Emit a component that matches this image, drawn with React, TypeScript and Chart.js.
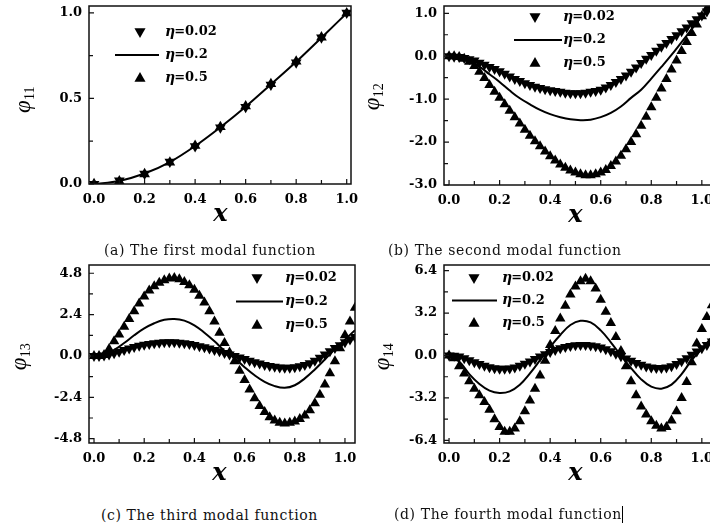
import React, { useEffect, useRef } from "react";
import { Chart, registerables } from "chart.js";

Chart.register(...registerables);

// ---------- shared labels ----------
const ETA_LABELS = ["η=0.02", "η=0.2", "η=0.5"];
const CAPTIONS = [
  "(a) The first modal function",
  "(b) The second modal function",
  "(c) The third modal function",
  "(d) The fourth modal function",
];
const Y_SUBS = ["11", "12", "13", "14"];

// ---------- x positions ----------
const A_X = [0, 0.1, 0.2, 0.3, 0.4, 0.5, 0.6, 0.7, 0.8, 0.9, 1.0];
const DENSE_X = [
  0, 0.02, 0.04, 0.06, 0.08, 0.1, 0.12, 0.14, 0.16, 0.18, 0.2, 0.22, 0.24, 0.26, 0.28, 0.3, 0.32, 0.34,
  0.36, 0.38, 0.4, 0.42, 0.44, 0.46, 0.48, 0.5, 0.52, 0.54, 0.56, 0.58, 0.6, 0.62, 0.64, 0.66, 0.68,
  0.7, 0.72, 0.74, 0.76, 0.78, 0.8, 0.82, 0.84, 0.86, 0.88, 0.9, 0.92, 0.94, 0.96, 0.98, 1.0, 1.02, 1.04,
];
const LINE_X = [
  0, 0.04, 0.08, 0.12, 0.16, 0.2, 0.24, 0.28, 0.32, 0.36, 0.4, 0.44, 0.48, 0.52, 0.56, 0.6, 0.64, 0.68,
  0.72, 0.76, 0.8, 0.84, 0.88, 0.92, 0.96, 1.0, 1.04,
];

// ---------- tick values ----------
const X_TICKS = [0, 0.2, 0.4, 0.6, 0.8, 1.0];
const X_MINOR = [0.1, 0.3, 0.5, 0.7, 0.9];
const A_Y_TICKS = [0, 0.5, 1.0];
const A_Y_MINOR = [0.25, 0.75];
const B_Y_TICKS = [-3, -2, -1, 0, 1];
const B_Y_MINOR = [-2.5, -1.5, -0.5, 0.5];
const C_Y_TICKS = [-4.8, -2.4, 0, 2.4, 4.8];
const C_Y_MINOR = [-3.6, -1.2, 1.2, 3.6];
const D_Y_TICKS = [-6.4, -3.2, 0, 3.2, 6.4];
const D_Y_MINOR = [-4.8, -1.6, 1.6, 4.8];

// ---------- (a) first modal function ----------
const A_ETA002 = [0, 0.02, 0.06, 0.13, 0.22, 0.33, 0.45, 0.58, 0.71, 0.855, 1.0];
const A_ETA02 = [0, 0.018, 0.061, 0.128, 0.222, 0.332, 0.452, 0.582, 0.714, 0.855, 0.998];
const A_ETA05 = [0, 0.016, 0.058, 0.126, 0.224, 0.334, 0.455, 0.585, 0.716, 0.857, 0.998];

// ---------- (b) second modal function ----------
const B_ETA002 = [
  0, -0.01, -0.02, -0.04, -0.07, -0.1, -0.15, -0.2, -0.25, -0.3, -0.35, -0.41, -0.47, -0.53, -0.58, -0.63,
  -0.67, -0.71, -0.74, -0.77, -0.79, -0.81, -0.83, -0.85, -0.86, -0.86, -0.86, -0.85, -0.83, -0.81, -0.78,
  -0.73, -0.67, -0.6, -0.53, -0.45, -0.36, -0.26, -0.16, -0.06, 0.03, 0.13, 0.22, 0.31, 0.4, 0.49, 0.58,
  0.67, 0.77, 0.86, 0.95, 1.04, 1.12,
];
const B_ETA02 = [
  0, -0.03, -0.1, -0.24, -0.42, -0.6, -0.8, -0.98, -1.12, -1.25, -1.35, -1.42, -1.47, -1.49, -1.48, -1.42,
  -1.32, -1.17, -0.97, -0.78, -0.52, -0.25, 0.03, 0.33, 0.63, 0.93, 1.2,
];
const B_ETA05 = [
  0, 0, -0.02, -0.06, -0.13, -0.23, -0.36, -0.51, -0.67, -0.83, -0.97, -1.12, -1.27, -1.42, -1.57, -1.71,
  -1.85, -1.98, -2.1, -2.22, -2.33, -2.43, -2.52, -2.6, -2.66, -2.71, -2.75, -2.77, -2.77, -2.75, -2.71,
  -2.65, -2.56, -2.45, -2.32, -2.17, -2.0, -1.82, -1.62, -1.41, -1.19, -0.97, -0.75, -0.53, -0.31, -0.1,
  0.12, 0.33, 0.54, 0.74, 0.93, 1.11, 1.28,
];

// ---------- (c) third modal function ----------
const C_ETA002 = [
  0, 0, 0.03, 0.08, 0.16, 0.25, 0.34, 0.43, 0.52, 0.59, 0.65, 0.7, 0.74, 0.77, 0.79, 0.8, 0.79, 0.77, 0.74,
  0.69, 0.64, 0.57, 0.5, 0.43, 0.35, 0.27, 0.18, 0.09, 0, -0.09, -0.18, -0.27, -0.36, -0.44, -0.52, -0.58,
  -0.63, -0.67, -0.69, -0.68, -0.66, -0.6, -0.53, -0.42, -0.27, -0.1, 0.08, 0.27, 0.46, 0.63, 0.8, 0.95, 1.1,
];
const C_ETA02 = [
  0, 0.08, 0.35, 0.75, 1.2, 1.6, 1.9, 2.1, 2.15, 2.05, 1.78, 1.35, 0.85, 0.3, -0.12, -0.65, -1.12, -1.5,
  -1.75, -1.85, -1.7, -1.3, -0.78, -0.2, 0.4, 0.95, 1.5,
];
const C_ETA05 = [
  0, 0, 0.05, 0.4, 0.85, 1.25, 1.7, 2.15, 2.6, 3.05, 3.45, 3.8, 4.05, 4.25, 4.4, 4.5, 4.52, 4.45, 4.3, 4.1,
  3.85, 3.5, 3.1, 2.6, 2.0, 1.35, 0.75, 0.2, -0.3, -0.85, -1.4, -1.95, -2.45, -2.9, -3.25, -3.55, -3.75,
  -3.88, -3.92, -3.88, -3.8, -3.65, -3.45, -3.15, -2.75, -2.25, -1.65, -1.0, -0.3, 0.45, 1.2, 2.0, 2.8,
];

// ---------- (d) fourth modal function ----------
const D_ETA002 = [
  0, -0.02, -0.08, -0.2, -0.35, -0.5, -0.64, -0.77, -0.88, -0.96, -1.0, -1.0, -0.97, -0.9, -0.78, -0.62,
  -0.45, -0.27, -0.08, 0.1, 0.27, 0.42, 0.55, 0.65, 0.72, 0.77, 0.79, 0.79, 0.76, 0.7, 0.6, 0.47, 0.32,
  0.14, -0.05, -0.22, -0.4, -0.56, -0.7, -0.82, -0.9, -0.95, -0.95, -0.9, -0.8, -0.64, -0.44, -0.2, 0.05,
  0.3, 0.55, 0.8, 1.05,
];
const D_ETA02 = [
  0, -0.45, -1.4, -2.15, -2.65, -2.82, -2.7, -2.2, -1.35, -0.35, 0.65, 1.55, 2.3, 2.62, 2.5, 1.9, 1.0, 0.0,
  -0.95, -1.8, -2.35, -2.5, -2.2, -1.4, -0.35, 0.5, 1.4,
];
const D_ETA05 = [
  0, -0.2, -0.8, -1.35, -1.95, -2.5, -3.0, -3.5, -4.1, -4.8, -5.4, -5.75, -5.75, -5.5, -4.95, -4.2, -3.4,
  -2.5, -1.5, -0.4, 0.8, 1.85, 2.8, 3.75, 4.6, 5.2, 5.6, 5.8, 5.6, 5.05, 4.2, 3.3, 2.45, 1.4, 0.35, -0.8,
  -1.95, -3.0, -3.85, -4.45, -4.95, -5.3, -5.5, -5.4, -4.9, -4.2, -3.2, -2.0, -0.5, 0.9, 2.0, 2.9, 3.8,
];

// ---------- helpers ----------
const zip = (xs: number[], ys: number[]) => xs.map((x, i) => ({ x, y: ys[i] }));

const SERIF = "'DejaVu Serif', serif";

function tri(ctx: CanvasRenderingContext2D, x: number, y: number, r: number, down: boolean) {
  const s = down ? -1 : 1;
  ctx.beginPath();
  ctx.moveTo(x, y - s * r);
  ctx.lineTo(x + r * 0.866, y + (s * r) / 2);
  ctx.lineTo(x - r * 0.866, y + (s * r) / 2);
  ctx.closePath();
  ctx.fill();
}

const decorPlugin = {
  id: "decor",
  afterDatasetsDraw(chart: any, _args: any, o: any) {
    const { ctx, chartArea: ca, scales } = chart;
    const xs = scales.x;
    const ys = scales.y;
    ctx.save();
    // frame
    ctx.strokeStyle = "#111";
    ctx.lineWidth = 1.5;
    ctx.strokeRect(ca.left, ca.top, ca.right - ca.left, ca.bottom - ca.top);
    // inward ticks
    ctx.lineWidth = 1.2;
    ctx.beginPath();
    o.xMajor.forEach((v: number) => {
      const p = xs.getPixelForValue(v);
      ctx.moveTo(p, ca.bottom);
      ctx.lineTo(p, ca.bottom - 5);
    });
    o.xMinor.forEach((v: number) => {
      const p = xs.getPixelForValue(v);
      ctx.moveTo(p, ca.bottom);
      ctx.lineTo(p, ca.bottom - 4);
    });
    o.yMajor.forEach((v: number) => {
      const p = ys.getPixelForValue(v);
      ctx.moveTo(ca.left, p);
      ctx.lineTo(ca.left + 5, p);
    });
    o.yMinor.forEach((v: number) => {
      const p = ys.getPixelForValue(v);
      ctx.moveTo(ca.left, p);
      ctx.lineTo(ca.left + 4, p);
    });
    ctx.stroke();

    // x title
    ctx.fillStyle = "#000";
    ctx.font = `italic bold 24px ${SERIF}`;
    ctx.textAlign = "center";
    ctx.textBaseline = "middle";
    ctx.fillText("x", xs.getPixelForValue(0.5), ca.bottom + 31);

    // y title (rotated φ with subscript)
    ctx.save();
    ctx.translate(o.yTitle.x, o.yTitle.y);
    ctx.rotate(-Math.PI / 2);
    const phiFont = "italic 23px 'Liberation Serif', serif";
    const subFont = "14px 'Liberation Serif', serif";
    ctx.font = phiFont;
    const w1 = ctx.measureText("φ").width;
    ctx.font = subFont;
    const w2 = ctx.measureText(o.sub).width;
    const start = -(w1 + w2) / 2;
    ctx.textAlign = "left";
    ctx.textBaseline = "alphabetic";
    ctx.font = phiFont;
    ctx.fillText("φ", start, 5);
    ctx.font = subFont;
    ctx.fillText(o.sub, start + w1 + 0.5, 9);
    ctx.restore();

    // legend
    const L = o.legend;
    const bx = ca.left + L.mx;
    const by = ca.top + L.my;
    chart.data.datasets.forEach((ds: any, i: number) => {
      const y = by + i * L.dy;
      ctx.fillStyle = "#000";
      ctx.strokeStyle = "#000";
      if (ds.showLine) {
        ctx.lineWidth = 2;
        ctx.beginPath();
        ctx.moveTo(bx + L.l0, y);
        ctx.lineTo(bx + L.l1, y);
        ctx.stroke();
      } else {
        tri(ctx, bx, y + (ds.pointRotation === 180 ? -0.5 : 0.5), 6.4, ds.pointRotation === 180);
      }
      const label: string = ds.label;
      ctx.textAlign = "left";
      ctx.textBaseline = "middle";
      ctx.font = `italic bold 14px ${SERIF}`;
      const eta = label.slice(0, 1);
      ctx.fillText(eta, bx + L.tx, y);
      const we = ctx.measureText(eta).width;
      ctx.font = `bold 13px ${SERIF}`;
      ctx.fillText(label.slice(1), bx + L.tx + we - 1, y);
    });
    ctx.restore();
  },
};

type PanelCfg = {
  left: number;
  top: number;
  w: number;
  h: number;
  pad: { left: number; top: number; right: number; bottom: number };
  yW: number;
  xH: number;
  xMin: number;
  xMax: number;
  yMin: number;
  yMax: number;
  yTicks: number[];
  yMinor: number[];
  sub: string;
  yTitle: { x: number; y: number };
  legend: { mx: number; my: number; dy: number; l0: number; l1: number; tx: number };
  r: number;
  low: { x: number; y: number }[];
  mid: { x: number; y: number }[];
  high: { x: number; y: number }[];
  midMono: boolean;
};

const PANELS: PanelCfg[] = [
  {
    left: 0, top: -20, w: 380, h: 256,
    pad: { left: 0, top: 26, right: 29, bottom: 0 },
    yW: 89, xH: 52,
    xMin: -0.02, xMax: 1.017, yMin: 0, yMax: 1.04,
    yTicks: A_Y_TICKS, yMinor: A_Y_MINOR,
    sub: Y_SUBS[0], yTitle: { x: 25, y: 120 },
    legend: { mx: 51, my: 26, dy: 23, l0: -25, l1: 19, tx: 25 },
    r: 6.2,
    low: zip(A_X, A_ETA002), mid: zip(A_X, A_ETA02), high: zip(A_X, A_ETA05),
    midMono: true,
  },
  {
    left: 350, top: -20, w: 400, h: 256,
    pad: { left: 0, top: 26, right: 33, bottom: 0 },
    yW: 94, xH: 51,
    xMin: -0.02, xMax: 1.06, yMin: -3.0, yMax: 1.17,
    yTicks: B_Y_TICKS, yMinor: B_Y_MINOR,
    sub: Y_SUBS[1], yTitle: { x: 24, y: 117 },
    legend: { mx: 91, my: 11, dy: 23, l0: -21, l1: 27, tx: 28 },
    r: 6,
    low: zip(DENSE_X, B_ETA002), mid: zip(LINE_X, B_ETA02), high: zip(DENSE_X, B_ETA05),
    midMono: false,
  },
  {
    left: 0, top: 240, w: 380, h: 256,
    pad: { left: 0, top: 25, right: 25, bottom: 0 },
    yW: 89, xH: 53,
    xMin: -0.02, xMax: 1.04, yMin: -5.05, yMax: 5.28,
    yTicks: C_Y_TICKS, yMinor: C_Y_MINOR,
    sub: Y_SUBS[2], yTitle: { x: 21, y: 117 },
    legend: { mx: 168, my: 13, dy: 23.5, l0: -21, l1: 26, tx: 28 },
    r: 6,
    low: zip(DENSE_X, C_ETA002), mid: zip(LINE_X, C_ETA02), high: zip(DENSE_X, C_ETA05),
    midMono: false,
  },
  {
    left: 350, top: 240, w: 400, h: 256,
    pad: { left: 0, top: 25, right: 33, bottom: 0 },
    yW: 94, xH: 53,
    xMin: -0.02, xMax: 1.06, yMin: -6.6, yMax: 6.83,
    yTicks: D_Y_TICKS, yMinor: D_Y_MINOR,
    sub: Y_SUBS[3], yTitle: { x: 34, y: 117 },
    legend: { mx: 30, my: 13, dy: 22.5, l0: -22, l1: 23, tx: 28 },
    r: 6,
    low: zip(DENSE_X, D_ETA002), mid: zip(LINE_X, D_ETA02), high: zip(DENSE_X, D_ETA05),
    midMono: false,
  },
];

const CAPTION_POS = [
  { left: 104, top: 242 },
  { left: 388, top: 242 },
  { left: 101, top: 507 },
  { left: 394, top: 506 },
];

function buildConfig(p: PanelCfg): any {
  const tickFont = { family: SERIF, weight: "bold", size: 13 };
  const zeroPad = (s: any) => {
    s.paddingTop = 0;
    s.paddingBottom = 0;
    s.paddingLeft = 0;
    s.paddingRight = 0;
  };
  return {
    type: "scatter",
    data: {
      datasets: [
        {
          label: ETA_LABELS[0],
          data: p.low,
          showLine: false,
          pointStyle: "triangle",
          pointRotation: 180,
          pointRadius: p.r,
          pointBackgroundColor: "#000",
          pointBorderColor: "#000",
          pointBorderWidth: 0,
          borderWidth: 0,
        },
        {
          label: ETA_LABELS[1],
          data: p.mid,
          showLine: true,
          borderColor: "#000",
          borderWidth: 2,
          pointRadius: 0,
          tension: 0.4,
          cubicInterpolationMode: p.midMono ? "monotone" : "default",
        },
        {
          label: ETA_LABELS[2],
          data: p.high,
          showLine: false,
          pointStyle: "triangle",
          pointRotation: 0,
          pointRadius: p.r,
          pointBackgroundColor: "#000",
          pointBorderColor: "#000",
          pointBorderWidth: 0,
          borderWidth: 0,
        },
      ],
    },
    options: {
      responsive: false,
      animation: false,
      devicePixelRatio: 1,
      events: [],
      layout: { padding: p.pad },
      plugins: {
        legend: { display: false },
        tooltip: { enabled: false },
        decor: {
          xMajor: X_TICKS,
          xMinor: X_MINOR,
          yMajor: p.yTicks,
          yMinor: p.yMinor,
          sub: p.sub,
          yTitle: p.yTitle,
          legend: p.legend,
        },
      },
      scales: {
        x: {
          type: "linear",
          min: p.xMin,
          max: p.xMax,
          grid: { display: false, drawTicks: false },
          border: { display: false },
          ticks: {
            font: tickFont,
            color: "#000",
            padding: 8,
            autoSkip: false,
            maxRotation: 0,
            callback: (v: number) => Number(v).toFixed(1),
          },
          afterBuildTicks: (s: any) => {
            s.ticks = X_TICKS.map((v) => ({ value: v }));
          },
          afterFit: (s: any) => {
            s.height = p.xH;
            zeroPad(s);
          },
        },
        y: {
          type: "linear",
          min: p.yMin,
          max: p.yMax,
          grid: { display: false, drawTicks: false },
          border: { display: false },
          ticks: {
            font: tickFont,
            color: "#000",
            padding: 7,
            autoSkip: false,
            callback: (v: number) => Number(v).toFixed(1),
          },
          afterBuildTicks: (s: any) => {
            s.ticks = p.yTicks.map((v) => ({ value: v }));
          },
          afterFit: (s: any) => {
            s.width = p.yW;
            zeroPad(s);
          },
        },
      },
    },
    plugins: [decorPlugin],
  };
}

function Panel({ cfg }: { cfg: PanelCfg }) {
  const ref = useRef<HTMLCanvasElement>(null);
  useEffect(() => {
    if (!ref.current) return;
    const chart = new Chart(ref.current, buildConfig(cfg));
    return () => chart.destroy();
  }, [cfg]);
  return (
    <canvas
      ref={ref}
      width={cfg.w}
      height={cfg.h}
      style={{ position: "absolute", left: cfg.left, top: cfg.top, width: cfg.w, height: cfg.h }}
    />
  );
}

export default function App() {
  return (
    <div
      style={{
        position: "fixed",
        left: 0,
        top: 0,
        width: 710,
        height: 527,
        overflow: "hidden",
        background: "#fff",
      }}
    >
      {PANELS.map((p, i) => (
        <Panel key={i} cfg={p} />
      ))}
      {CAPTIONS.map((c, i) => (
        <div
          key={c}
          style={{
            position: "absolute",
            left: CAPTION_POS[i].left,
            top: CAPTION_POS[i].top,
            fontFamily: SERIF,
            fontSize: 14,
            letterSpacing: "0.6px",
            lineHeight: "17px",
            color: "#111",
            whiteSpace: "nowrap",
          }}
        >
          {c}
          {i === 3 ? (
            <span
              style={{
                display: "inline-block",
                width: 0,
                height: 17,
                borderLeft: "1px solid #000",
                marginLeft: 0,
                verticalAlign: "-4px",
              }}
            />
          ) : null}
        </div>
      ))}
    </div>
  );
}
